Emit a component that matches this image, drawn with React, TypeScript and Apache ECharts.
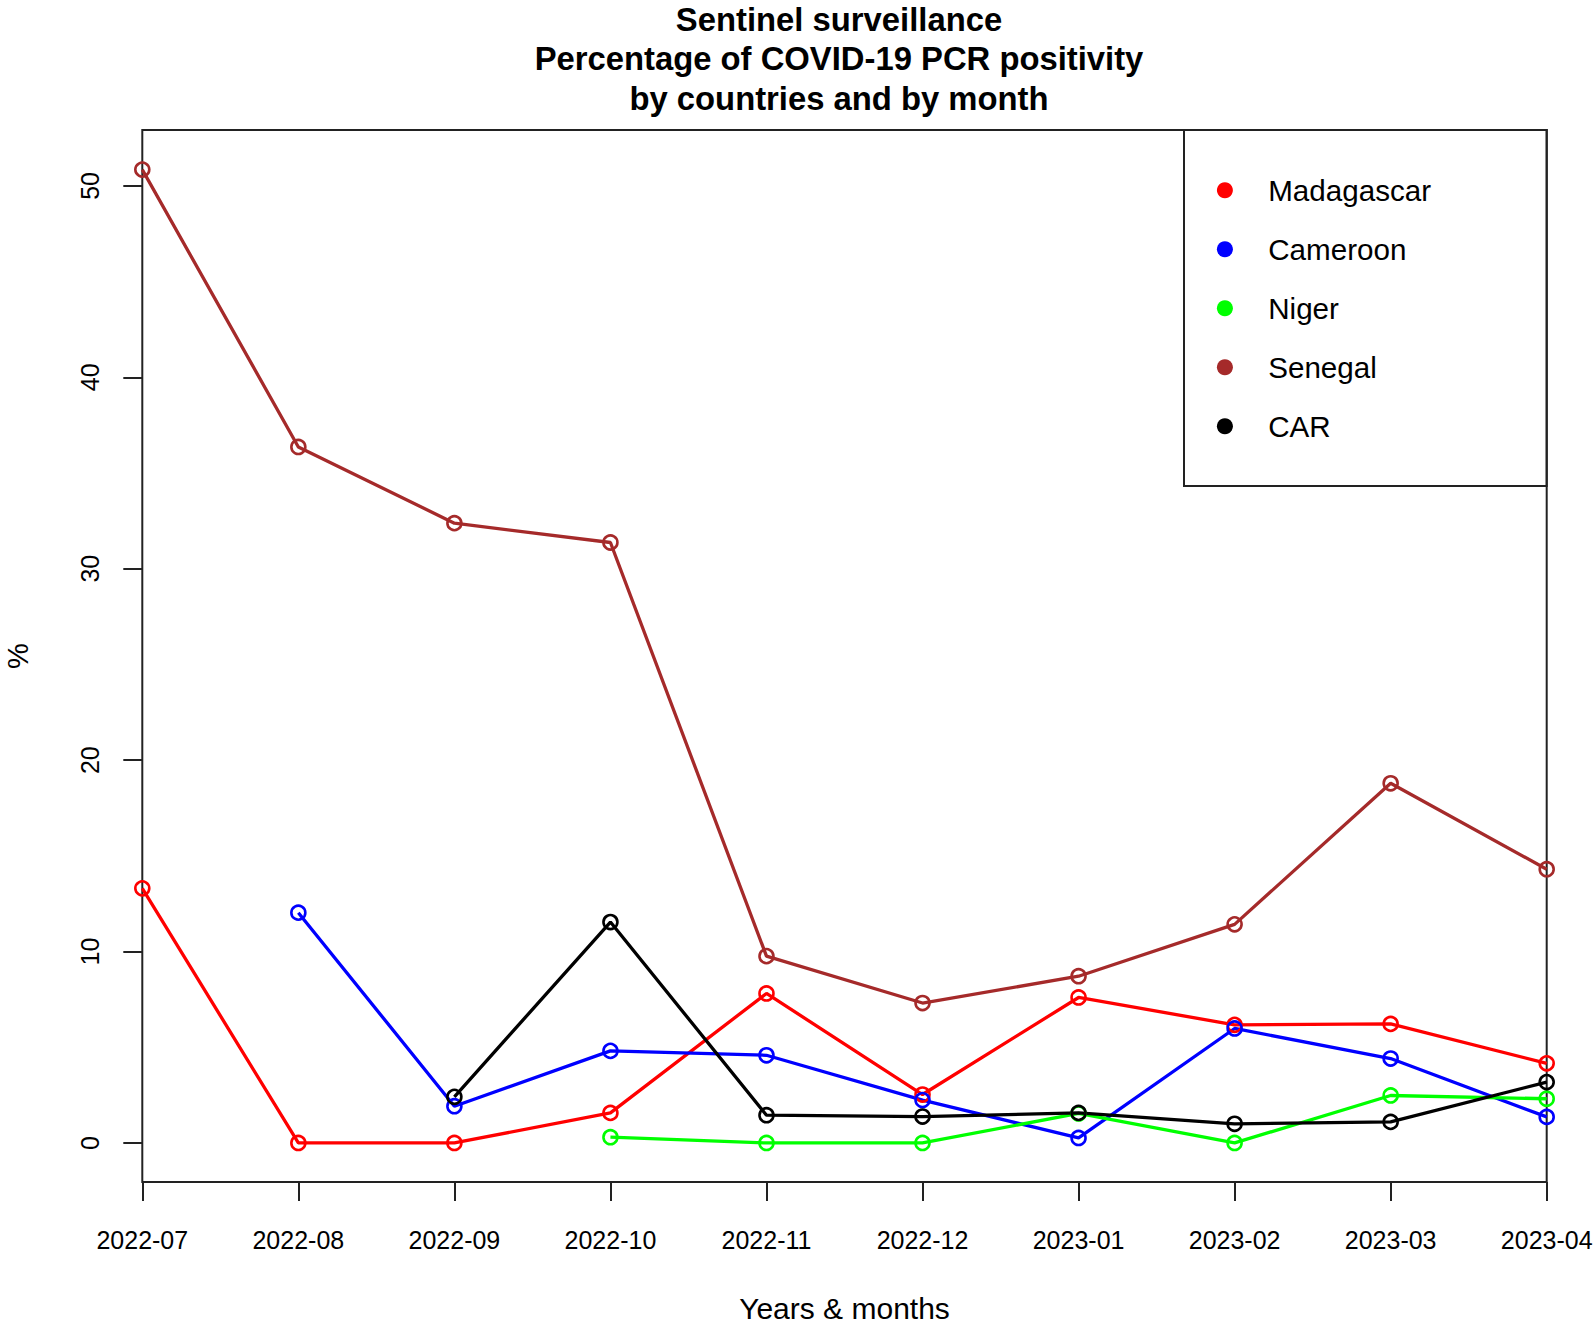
import React, { useEffect, useRef } from "react";
import * as echarts from "echarts";

const months = ["2022-07", "2022-08", "2022-09", "2022-10", "2022-11", "2022-12", "2023-01", "2023-02", "2023-03", "2023-04"];
const madagascar = [13.3, 0, 0, 1.57, 7.81, 2.53, 7.6, 6.17, 6.22, 4.16];
const cameroon = [null, 12.03, 1.92, 4.81, 4.58, 2.24, 0.26, 5.98, 4.41, 1.36];
const niger = [null, null, null, 0.3, 0, 0, 1.54, 0, 2.48, 2.31];
const senegal = [50.85, 36.36, 32.38, 31.37, 9.76, 7.31, 8.71, 11.42, 18.79, 14.3];
const car = [null, null, 2.41, 11.54, 1.45, 1.38, 1.57, 1.0, 1.1, 3.18];
const yTicks = [0, 10, 20, 30, 40, 50];

const seriesDefs = [
  { name: "Madagascar", color: "#FF0000", data: madagascar },
  { name: "Cameroon", color: "#0000FF", data: cameroon },
  { name: "Niger", color: "#00FF00", data: niger },
  { name: "Senegal", color: "#A52A2A", data: senegal },
  { name: "CAR", color: "#000000", data: car },
];

const FONT = "'Liberation Sans', Arial, Helvetica, sans-serif";

export default function App() {
  const ref = useRef<HTMLDivElement>(null);
  useEffect(() => {
    if (!ref.current) return;
    const chart = echarts.init(ref.current, null, { renderer: "svg" });
    const gridLeft = 142.3;
    const gridTop = 130;
    const gridW = 1404.4;
    const gridH = 1052;
    chart.setOption({
      animation: false,
      backgroundColor: "#ffffff",
      textStyle: { fontFamily: FONT },
      title: {
        text: "Sentinel surveillance\nPercentage of COVID-19 PCR positivity\nby countries and by month",
        left: 839,
        top: 0,
        padding: 0,
        textAlign: "center",
        textStyle: {
          fontFamily: FONT,
          fontSize: 32.8,
          fontWeight: "bold",
          color: "#000",
          lineHeight: 39.2,
        },
      },
      grid: {
        left: gridLeft,
        top: gridTop,
        width: gridW,
        height: gridH,
        show: true,
        borderColor: "#222",
        borderWidth: 2,
        backgroundColor: "transparent",
        outerBoundsMode: "none",
        containLabel: false,
      },
      legend: {
        orient: "vertical",
        left: 1216.9,
        top: 175.2,
        padding: 0,
        itemWidth: 76.6,
        itemHeight: 16,
        itemGap: 29,
        textStyle: { fontFamily: FONT, fontSize: 29.6, color: "#000" },
        data: seriesDefs.map((s) => ({
          name: s.name,
          icon: "circle",
          itemStyle: { color: s.color, borderWidth: 0 },
        })),
      },
      graphic: [
        {
          type: "rect",
          shape: { x: 1184, y: gridTop, width: gridLeft + gridW - 1184, height: 486 - gridTop },
          style: { fill: "none", stroke: "#222", lineWidth: 2 },
          silent: true,
        },
      ],
      xAxis: {
        type: "category",
        data: months,
        boundaryGap: false,
        name: "Years & months",
        nameLocation: "middle",
        nameGap: 111,
        nameTextStyle: { fontFamily: FONT, fontSize: 30, color: "#000" },
        axisLine: { show: false, onZero: false },
        axisTick: { show: true, length: 19, alignWithLabel: true, interval: 0, lineStyle: { color: "#222", width: 2 } },
        axisLabel: { fontSize: 25, color: "#000", margin: 45, interval: 0, fontFamily: FONT },
        splitLine: { show: false },
      },
      yAxis: {
        type: "value",
        min: -2.04,
        max: 52.92,
        name: "%",
        nameLocation: "middle",
        nameGap: 110,
        nameRotate: 90,
        nameTextStyle: { fontFamily: FONT, fontSize: 29, color: "#000" },
        axisLine: { show: false, onZero: false },
        axisTick: { show: true, length: 19, customValues: yTicks, lineStyle: { color: "#222", width: 2 } },
        axisLabel: {
          customValues: yTicks,
          rotate: 90,
          fontSize: 25,
          color: "#000",
          margin: 40,
          align: "center",
          verticalAlign: "bottom",
          fontFamily: FONT,
        },
        splitLine: { show: false },
      },
      series: seriesDefs.map((s) => ({
        name: s.name,
        type: "line",
        data: s.data,
        connectNulls: false,
        symbol: "circle",
        symbolSize: 14,
        showSymbol: true,
        clip: true,
        lineStyle: { color: s.color, width: 3.3 },
        itemStyle: { color: "rgba(0,0,0,0)", borderColor: s.color, borderWidth: 2.6 },
        emphasis: { disabled: true },
      })),
    });
    return () => chart.dispose();
  }, []);
  return (
    <div
      ref={ref}
      style={{ position: "fixed", left: 0, top: 0, width: 1595, height: 1327, background: "#fff" }}
    />
  );
}
